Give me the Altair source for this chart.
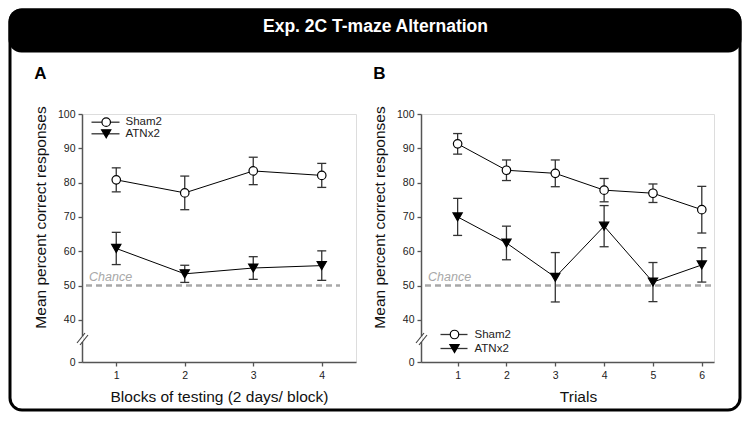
import altair as alt
import pandas as pd

# ---------------- data ----------------
groups = ["Sham2", "ATNx2"]

blocks = [1, 2, 3, 4]
sham_a = [80.8, 77.0, 83.4, 82.1]
sham_a_sem = [3.5, 4.9, 4.0, 3.5]
atn_a = [60.8, 53.4, 55.1, 55.8]
atn_a_sem = [4.7, 2.5, 3.3, 4.3]

trials = [1, 2, 3, 4, 5, 6]
sham_b = [91.3, 83.6, 82.7, 77.8, 76.9, 72.1]
sham_b_sem = [3.0, 3.0, 3.9, 3.4, 2.7, 6.8]
atn_b = [70.0, 62.4, 52.4, 67.3, 51.0, 56.0]
atn_b_sem = [5.4, 4.9, 7.2, 6.0, 5.7, 5.0]

chance = [50]
y_ticks = [0, 40, 50, 60, 70, 80, 90, 100]

title_text = "Exp. 2C T-maze Alternation"
y_title = "Mean percent correct responses"
x_title_a = "Blocks of testing (2 days/ block)"
x_title_b = "Trials"


def make_df(xs, s, s_sem, a, a_sem):
    rows = []
    for x, m, e in zip(xs, s, s_sem):
        rows.append({"x": x, "group": "Sham2", "mean": m, "sem": e})
    for x, m, e in zip(xs, a, a_sem):
        rows.append({"x": x, "group": "ATNx2", "mean": m, "sem": e})
    return pd.DataFrame(rows)


df_a = make_df(blocks, sham_a, sham_a_sem, atn_a, atn_a_sem)
df_b = make_df(trials, sham_b, sham_b_sem, atn_b, atn_b_sem)
chance_df = pd.DataFrame({"chance": chance})
one = pd.DataFrame({"k": [0]})

H = 248.0
Y40 = 205.8
FONT = "Liberation Sans"
AX = "#555555"
TITLE_FS = 15.5


def yscale():
    return alt.Scale(domain=[0, 40, 100], range=[H, Y40, 0], nice=False, zero=False)


def yaxis(title_x):
    return alt.Axis(values=y_ticks, title=y_title, grid=False, domainColor=AX,
                    domainWidth=1.5, tickColor=AX, tickWidth=1.3, tickSize=4,
                    labelPadding=3, labelFontSize=10.5, labelColor="#222",
                    labelFont=FONT, titleFont=FONT, titleFontSize=TITLE_FS,
                    titleFontWeight="normal", titleColor="#111",
                    titleX=title_x, titleY=103, titleAngle=-90,
                    titleBaseline="alphabetic", titleAlign="center")


def xaxis(ticks, title, title_x):
    return alt.Axis(values=ticks, format="d", title=title, grid=False,
                    domainColor=AX, domainWidth=1.5, tickColor=AX, tickWidth=1.3,
                    tickSize=4, labelPadding=4, labelFontSize=10.5, labelColor="#222",
                    labelFont=FONT, titleFont=FONT, titleFontSize=TITLE_FS,
                    titleFontWeight="normal", titleColor="#111",
                    titleY=39, titleX=title_x, titleBaseline="alphabetic",
                    titleAlign="center")


def panel(df, ticks, xdom, width, x_title, title_x, y_title_x, letter,
          chance_x2, legend_pos, extra=None):
    X = alt.X("x:Q", scale=alt.Scale(domain=xdom, nice=False, zero=False),
              axis=xaxis(ticks, x_title, title_x))

    def Y(field):
        return alt.Y(field, scale=yscale(), axis=yaxis(y_title_x))

    base = alt.Chart(df).transform_calculate(
        lo="datum.mean - datum.sem", hi="datum.mean + datum.sem")

    err = base.mark_rule(color="#333333", strokeWidth=1.3).encode(
        x=X, y=Y("lo:Q"), y2="hi:Q")
    cap_lo = base.mark_tick(orient="horizontal", size=9, thickness=1.3,
                            color="#333333", opacity=1).encode(x=X, y=Y("lo:Q"))
    cap_hi = base.mark_tick(orient="horizontal", size=9, thickness=1.3,
                            color="#333333", opacity=1).encode(x=X, y=Y("hi:Q"))
    line = base.mark_line(color="black", strokeWidth=1).encode(
        x=X, y=Y("mean:Q"), detail="group:N")
    pts = base.mark_point(filled=True, stroke="black", strokeWidth=1.2,
                          opacity=1).encode(
        x=X, y=Y("mean:Q"),
        shape=alt.Shape("group:N", scale=alt.Scale(domain=groups,
                        range=["circle", "triangle-down"]), legend=None),
        fill=alt.Fill("group:N", scale=alt.Scale(domain=groups,
                      range=["white", "black"]), legend=None),
        size=alt.Size("group:N", scale=alt.Scale(domain=groups, range=[72, 85]),
                      legend=None))

    ch = alt.Chart(chance_df)
    ch_rule = ch.mark_rule(color="#a8a8a8", strokeWidth=2.5,
                           strokeDash=[6, 4]).encode(
        x=alt.value(4), x2=alt.value(chance_x2), y=Y("chance:Q"))
    ch_text = ch.mark_text(text="Chance", fontStyle="italic", fontSize=12.5,
                           font=FONT, color="#a8a8a8", align="left",
                           baseline="alphabetic", dy=-5).encode(
        x=alt.value(7), y=Y("chance:Q"))

    # axis break marks
    brk = []
    d = alt.Chart(one)
    brk.append(d.mark_rule(color="white", strokeWidth=3).encode(
        x=alt.value(0), y=alt.value(222), y2=alt.value(228)))
    for (x1, y1, x2, y2) in [(-5, 229, 3, 219), (-2, 231, 6, 221)]:
        brk.append(d.mark_rule(color="#444", strokeWidth=1.2).encode(
            x=alt.value(x1), y=alt.value(y1), x2=alt.value(x2), y2=alt.value(y2)))

    # manual legend
    lx1, lx2, mx, tx, ys = legend_pos
    leg = []
    for g, yy, shp, fill, sz in [("Sham2", ys[0], "circle", "white", 72),
                                 ("ATNx2", ys[1], "triangle-down", "black", 85)]:
        leg.append(d.mark_rule(color="#333", strokeWidth=1.3).encode(
            x=alt.value(lx1), x2=alt.value(lx2), y=alt.value(yy)))
        leg.append(d.mark_point(shape=shp, filled=True, fill=fill, stroke="black",
                                strokeWidth=1.2, size=sz, opacity=1).encode(
            x=alt.value(mx), y=alt.value(yy)))
        leg.append(d.mark_text(text=g, font=FONT, fontSize=11.5, color="#222",
                               align="left", baseline="middle").encode(
            x=alt.value(tx), y=alt.value(yy)))

    letter_mark = d.mark_text(text=letter, font=FONT, fontSize=17,
                              fontWeight="bold", color="black", align="center",
                              baseline="middle").encode(
        x=alt.value(-41.5), y=alt.value(-40.5))

    layers = []
    if extra:
        layers += extra
    layers += [ch_rule, ch_text, err, cap_lo, cap_hi, line, pts, letter_mark] + brk + leg
    return alt.layer(*layers).properties(width=width, height=H)


d0 = alt.Chart(one)
frame = d0.mark_rect(fill=None, stroke="black", strokeWidth=3,
                     cornerRadius=12).encode(
    x=alt.value(-72), x2=alt.value(658), y=alt.value(-104), y2=alt.value(296))
header = d0.mark_rect(fill="black", cornerRadius=13).encode(
    x=alt.value(-73.5), x2=alt.value(659.5), y=alt.value(-105.5), y2=alt.value(-61.5))
title = d0.mark_text(text=title_text, font=FONT, fontSize=17.5, fontWeight="bold",
                     color="white", align="center", baseline="middle").encode(
    x=alt.value(293.5), y=alt.value(-87.5))

panel_a = panel(df_a, blocks, [0.5, 4.5], 274, x_title_a, 137, -36.5, "A",
                258, (9.5, 37.5, 24.2, 43.5, (8.2, 19.8)),
                extra=[frame, header, title])
panel_b = panel(df_b, trials, [0.25, 6.25], 293, x_title_b, 157, -36.5, "B",
                291, (19.5, 46.5, 33.5, 53.5, (220.5, 234.5)))

chart = alt.hconcat(panel_a, panel_b, spacing=65, bounds="flush",
                    padding=0).configure_view(stroke=None).configure(
    background="white", font=FONT)

chart.save("out.html", embed_options={"renderer": "svg", "actions": False})
